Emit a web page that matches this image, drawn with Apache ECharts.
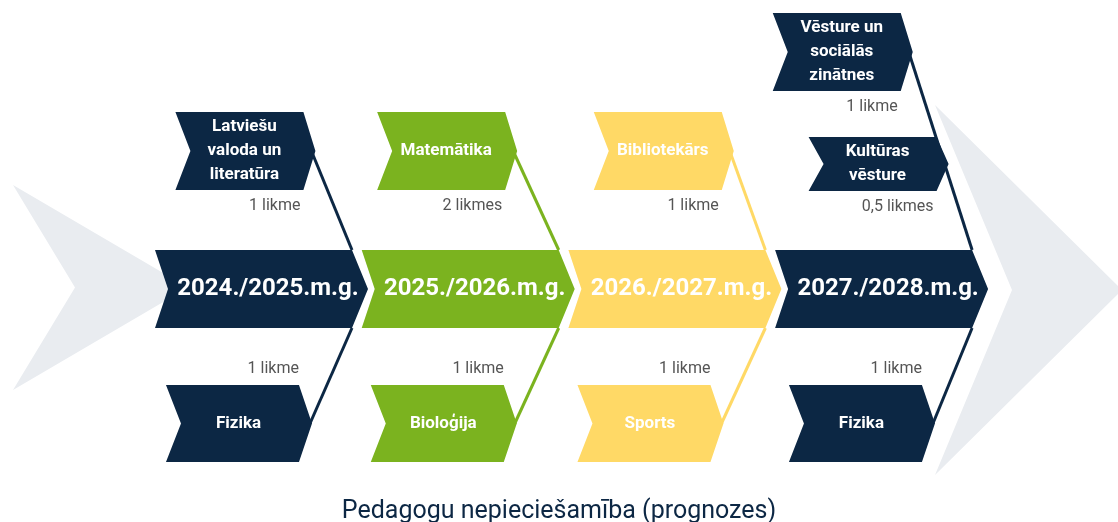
<!DOCTYPE html>
<html><head><meta charset="utf-8">
<script src="https://cdn.jsdelivr.net/npm/echarts@6/dist/echarts.min.js"></script>
<style>html,body{margin:0;padding:0;background:#fff}#c{width:1118px;height:522px}</style>
</head><body><div id="c"></div>
<script>
// ---------- data ----------
const years = ['2024./2025.m.g.', '2025./2026.m.g.', '2026./2027.m.g.', '2027./2028.m.g.'];
const topSubjects = [
  ['Latviešu\nvaloda un\nliteratūra'],
  ['Matemātika'],
  ['Bibliotekārs'],
  ['Vēsture un\nsociālās\nzinātnes', 'Kultūras\nvēsture']
];
const topRates = [[1], [2], [1], [1, 0.5]];
const bottomSubjects = ['Fizika', 'Bioloģija', 'Sports', 'Fizika'];
const bottomRates = [1, 1, 1, 1];
const titleText = 'Pedagogu nepieciešamība (prognozes)';

// ---------- styles ----------
const colColors = ['#0c2744', '#7bb31f', '#ffd966', '#0c2744'];
const bgGray = '#e9ecf0';
const rateColor = '#555555';
const FONT = 'Roboto';

// ---------- layout ----------
const L = {
  x0: 155, step: 206.7, W: 197, cTop: 250, cBot: 328, cTip: 16, cNotch: 13,
  topSlope: [0.41, 0.46, 0.36, 0.32], botSlope: [0.44, 0.46, 0.46, 0.41],
  topY: {1: [[112, 190]], 2: [[13, 91], [137, 191]]},
  botY: [385, 462],
  boxW: 128, boxTip: 12, boxNotch: 15, tipOut: 4,
  botW: 133, botTip: 13, botNotch: 15,
  bgLeft: {x: 13, notch: 75, tip: 188, y0: 185, y1: 390},
  bgRight: {x: 935, notch: 1012, tip: 1122, y0: 105, y1: 475}
};

function fmtRate(n) { return n === 1 ? '1 likme' : String(n).replace('.', ',') + ' likmes'; }
function colX(i) { return L.x0 + L.step * i; }
function corner(i) { return colX(i) + L.W; }
function centerBox(i) {
  const l = colX(i), rt = corner(i);
  return {l, rt, tip: rt + L.cTip, y0: L.cTop, y1: L.cBot, ym: (L.cTop + L.cBot) / 2, notch: L.cNotch};
}
function topBox(i, k) {
  const ys = L.topY[topSubjects[i].length][k];
  const ym = (ys[0] + ys[1]) / 2;
  const lineX = corner(i) - L.topSlope[i] * (L.cTop - ym);
  const tip = lineX + L.tipOut, rt = tip - L.boxTip;
  return {l: rt - L.boxW, rt, tip, y0: ys[0], y1: ys[1], ym, lineX, notch: L.boxNotch};
}
function botBox(i) {
  const ym = (L.botY[0] + L.botY[1]) / 2;
  const lineX = corner(i) - L.botSlope[i] * (ym - L.cBot);
  const tip = lineX + 2, rt = tip - L.botTip;
  return {l: rt - L.botW, rt, tip, y0: L.botY[0], y1: L.botY[1], ym, lineX, notch: L.botNotch};
}
function chev(api, b) {
  return [[b.l, b.y0], [b.rt, b.y0], [b.tip, b.ym], [b.rt, b.y1], [b.l, b.y1], [b.l + b.notch, b.ym]]
    .map(q => api.coord(q));
}
function txt(api, x, y, text, opt) {
  const p = api.coord([x, y]);
  return {
    type: 'text',
    style: Object.assign({
      text, x: p[0], y: p[1], align: 'center', verticalAlign: 'middle',
      fill: '#fff', fontFamily: FONT, fontSize: 17, fontWeight: 'bold', lineHeight: 24
    }, opt || {})
  };
}

const topItems = [];
topSubjects.forEach((arr, i) => arr.forEach((s, k) => topItems.push([i, k])));

const chart = echarts.init(document.getElementById('c'), null, {renderer: 'canvas'});
chart.setOption({
  animation: false,
  title: {
    text: titleText, left: 'center', top: 494,
    textStyle: {fontSize: 25, fontWeight: 'normal', color: '#0c2744', fontFamily: FONT}
  },
  grid: {left: 0, right: 0, top: 0, bottom: 0},
  xAxis: {type: 'value', min: 0, max: 1118, show: false},
  yAxis: {type: 'value', min: 0, max: 522, inverse: true, show: false},
  series: [
    { // background chevrons
      type: 'custom', silent: true, clip: false,
      data: [[0], [1]],
      renderItem: (params, api) => {
        const g = params.dataIndex === 0 ? L.bgLeft : L.bgRight;
        const ym = (g.y0 + g.y1) / 2;
        const pts = [[g.x, g.y0], [g.tip, ym], [g.x, g.y1], [g.notch, ym]].map(q => api.coord(q));
        return {type: 'polygon', shape: {points: pts}, style: {fill: bgGray}};
      }
    },
    { // spine lines
      type: 'custom', silent: true, clip: false,
      data: years.map((y, i) => [i]),
      renderItem: (params, api) => {
        const i = params.dataIndex;
        const tb = topBox(i, 0), bb = botBox(i);
        const topPts = [api.coord([tb.lineX, tb.ym]), api.coord([corner(i), L.cTop])];
        const botPts = [api.coord([corner(i), L.cBot]), api.coord([bb.lineX, bb.ym])];
        const c = colColors[i];
        return {type: 'group', children: [
          {type: 'polyline', shape: {points: topPts}, style: {stroke: '#fff', lineWidth: 9, fill: null}},
          {type: 'polyline', shape: {points: botPts}, style: {stroke: '#fff', lineWidth: 9, fill: null}},
          {type: 'polyline', shape: {points: topPts}, style: {stroke: c, lineWidth: 3, fill: null}},
          {type: 'polyline', shape: {points: botPts}, style: {stroke: c, lineWidth: 3, fill: null}}
        ]};
      }
    },
    { // center year chevrons
      type: 'custom', silent: true, clip: false,
      data: years.map((y, i) => [i]),
      renderItem: (params, api) => {
        const i = params.dataIndex;
        const b = centerBox(i);
        return {type: 'group', children: [
          {type: 'polygon', shape: {points: chev(api, b)}, style: {fill: colColors[i]}},
          txt(api, (b.l + b.notch + b.tip) / 2, b.ym, years[i], {fontSize: 24, fontWeight: 'bold'})
        ]};
      }
    },
    { // top subject boxes
      type: 'custom', silent: true, clip: false,
      data: topItems,
      renderItem: (params, api) => {
        const [i, k] = topItems[params.dataIndex];
        const b = topBox(i, k);
        return {type: 'group', children: [
          {type: 'polygon', shape: {points: chev(api, b)}, style: {fill: colColors[i]}},
          txt(api, (b.l + b.rt) / 2 + 5, b.ym, topSubjects[i][k]),
          txt(api, b.rt - 3, b.y1 + 16, fmtRate(topRates[i][k]),
            {align: 'right', fill: rateColor, fontWeight: 'normal', fontSize: 16})
        ]};
      }
    },
    { // bottom subject boxes
      type: 'custom', silent: true, clip: false,
      data: bottomSubjects.map((s, i) => [i]),
      renderItem: (params, api) => {
        const i = params.dataIndex;
        const b = botBox(i);
        return {type: 'group', children: [
          {type: 'polygon', shape: {points: chev(api, b)}, style: {fill: colColors[i]}},
          txt(api, (b.l + b.rt) / 2 + 6, b.ym, bottomSubjects[i]),
          txt(api, b.rt, b.y0 - 16, fmtRate(bottomRates[i]),
            {align: 'right', fill: rateColor, fontWeight: 'normal', fontSize: 16})
        ]};
      }
    }
  ]
});
</script>
</body></html>
